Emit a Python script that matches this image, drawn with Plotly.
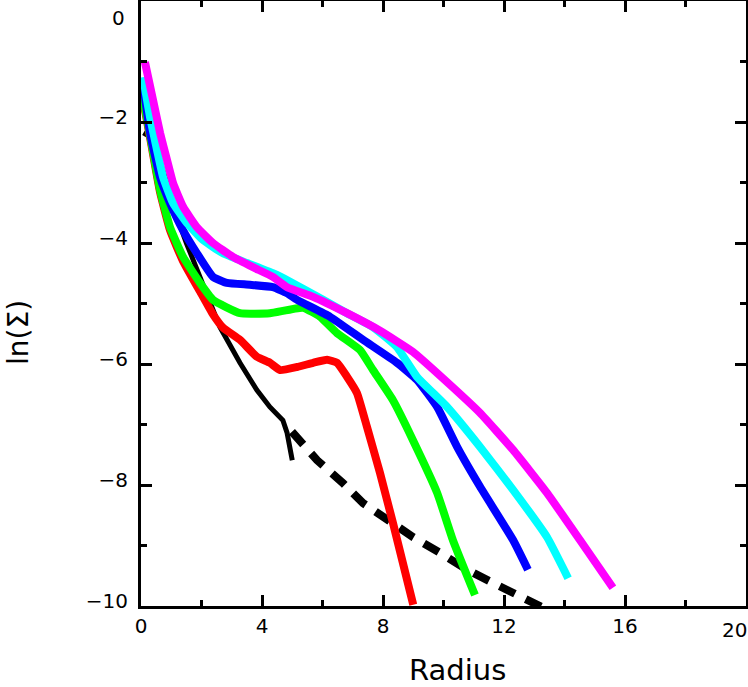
import plotly.graph_objects as go

# ---- data ----
black_x = [0.08, 0.22, 0.40, 0.58, 0.8, 1.1, 1.5, 1.95, 2.61, 3.27, 3.83, 4.26, 4.69, 4.83, 5.0]
black_y = [-2.18, -2.22, -2.35, -2.58, -2.92, -3.45, -4.00, -4.56, -5.39, -5.98, -6.43, -6.71, -6.93, -7.14, -7.59]

dash_x = [4.99, 5.82, 6.68, 7.34, 8.17, 8.99, 9.88, 10.78, 11.64, 12.63, 13.26]
dash_y = [-7.12, -7.59, -7.97, -8.30, -8.58, -8.86, -9.12, -9.40, -9.62, -9.87, -10.02]

red_x = [0.03, 0.33, 0.63, 0.96, 1.39, 1.95, 2.38, 2.71, 3.27, 3.83, 4.26, 4.60, 5.16, 5.69, 6.15, 6.48, 6.81, 7.14, 7.47, 7.90, 8.33, 9.0]
red_y = [-1.53, -2.34, -3.16, -3.79, -4.30, -4.80, -5.18, -5.40, -5.60, -5.88, -5.98, -6.10, -6.05, -5.98, -5.93, -5.98, -6.21, -6.48, -7.04, -7.80, -8.63, -9.98]

green_x = [0.03, 0.33, 0.63, 0.96, 1.39, 1.95, 2.38, 3.27, 4.26, 5.36, 5.92, 6.48, 7.24, 7.67, 8.33, 8.99, 9.79, 10.31, 11.04]
green_y = [-1.50, -2.30, -3.12, -3.74, -4.23, -4.66, -4.94, -5.16, -5.16, -5.07, -5.22, -5.49, -5.77, -6.10, -6.60, -7.26, -8.13, -8.91, -9.82]

blue_x = [0.07, 0.30, 0.63, 0.96, 1.39, 1.85, 2.38, 2.84, 3.60, 4.36, 4.83, 5.16, 6.25, 7.34, 8.46, 9.12, 9.79, 10.45, 11.21, 12.30, 12.79]
blue_y = [-1.36, -2.18, -2.91, -3.34, -3.79, -4.17, -4.56, -4.66, -4.69, -4.73, -4.83, -4.94, -5.22, -5.60, -5.98, -6.26, -6.71, -7.37, -8.03, -8.91, -9.40]

cyan_x = [0.07, 0.30, 0.53, 0.73, 1.06, 1.52, 2.05, 2.71, 3.50, 4.36, 4.93, 6.02, 6.81, 7.67, 8.46, 9.12, 10.12, 11.21, 12.30, 13.42, 14.12]
cyan_y = [-1.26, -1.92, -2.46, -2.91, -3.34, -3.67, -3.95, -4.17, -4.33, -4.50, -4.64, -4.94, -5.16, -5.39, -5.72, -6.21, -6.71, -7.37, -8.08, -8.86, -9.54]

magenta_x = [0.13, 0.40, 0.63, 0.86, 1.06, 1.39, 1.85, 2.38, 3.04, 3.70, 4.36, 4.83, 5.69, 6.81, 7.90, 8.99, 10.12, 11.21, 12.30, 13.42, 14.51, 15.60]
magenta_y = [-1.01, -1.64, -2.18, -2.63, -3.01, -3.40, -3.74, -4.00, -4.23, -4.40, -4.56, -4.73, -4.89, -5.16, -5.45, -5.80, -6.30, -6.81, -7.42, -8.13, -8.91, -9.70]

x_tickvals = [0, 4, 8, 12, 16, 20]
x_ticktext = ["0", "4", "8", "12", "16", ""]
y_tickvals = [-10, -8, -6, -4, -2, 0]
y_ticktext = ["\u221210", "\u22128", "\u22126", "\u22124", "\u22122", ""]

FONT = "DejaVu Sans"

fig = go.Figure()
fig.add_trace(go.Scatter(x=black_x, y=black_y, mode="lines",
                         line=dict(color="black", width=5)))
fig.add_trace(go.Scatter(x=dash_x, y=dash_y, mode="lines",
                         line=dict(color="black", width=8, dash="17px,12px")))
for xs, ys, col in [(red_x, red_y, "#ff0000"), (green_x, green_y, "#00ff00"),
                    (blue_x, blue_y, "#0000ff"), (cyan_x, cyan_y, "#00ffff"),
                    (magenta_x, magenta_y, "#ff00ff")]:
    fig.add_trace(go.Scatter(x=xs, y=ys, mode="lines",
                             line=dict(color=col, width=8, shape="spline", smoothing=0.4)))

axis_common = dict(showgrid=False, zeroline=False, showline=True, linecolor="black",
                   linewidth=3, mirror="allticks", ticks="inside", tickwidth=3,
                   ticklen=11, tickcolor="black", automargin=False,
                   tickfont=dict(family=FONT, size=20, color="black"))

fig.update_xaxes(range=[0, 20], tickvals=x_tickvals, ticktext=x_ticktext,
                 minor=dict(dtick=2, ticks="inside", ticklen=6, tickwidth=3, tickcolor="black"),
                 **axis_common)
fig.update_yaxes(range=[-10, 0], tickvals=y_tickvals, ticktext=y_ticktext,
                 minor=dict(dtick=1, ticks="inside", ticklen=6, tickwidth=3, tickcolor="black"),
                 ticklabelshift=-5, ticklabelstandoff=6,
                 **axis_common)

L, R, T, B = 141, 2, 1, 81
W, H = 748, 687
pw, ph = W - L - R, H - T - B

def px2paper(px, py):
    return (px - L) / pw, (H - B - py) / ph

annots = []
x0, y0 = px2paper(127, 18)
annots.append(dict(text="0", x=x0, y=y0, xanchor="right", yanchor="middle"))
x0, y0 = px2paper(734, 630)
annots.append(dict(text="20", x=x0, y=y0, xanchor="center", yanchor="middle"))
x0, y0 = px2paper(457, 670)
annots.append(dict(text="Radius", x=x0, y=y0, xanchor="center", yanchor="middle",
                   font=dict(family=FONT, size=29, color="black")))
x0, y0 = px2paper(18, 333)
annots.append(dict(text="ln(\u03a3)", x=x0, y=y0, xanchor="center", yanchor="middle",
                   textangle=-90, font=dict(family=FONT, size=28, color="black")))
for a in annots:
    a.setdefault("font", dict(family=FONT, size=20, color="black"))
    fig.add_annotation(xref="paper", yref="paper", showarrow=False, **a)

fig.update_layout(width=W, height=H, margin=dict(l=L, r=R, t=T, b=B, autoexpand=False),
                  paper_bgcolor="white", plot_bgcolor="white", showlegend=False)

fig.write_html("out.html", config={"displayModeBar": False},
               post_script="document.body.style.margin='0';document.body.style.padding='0';")
